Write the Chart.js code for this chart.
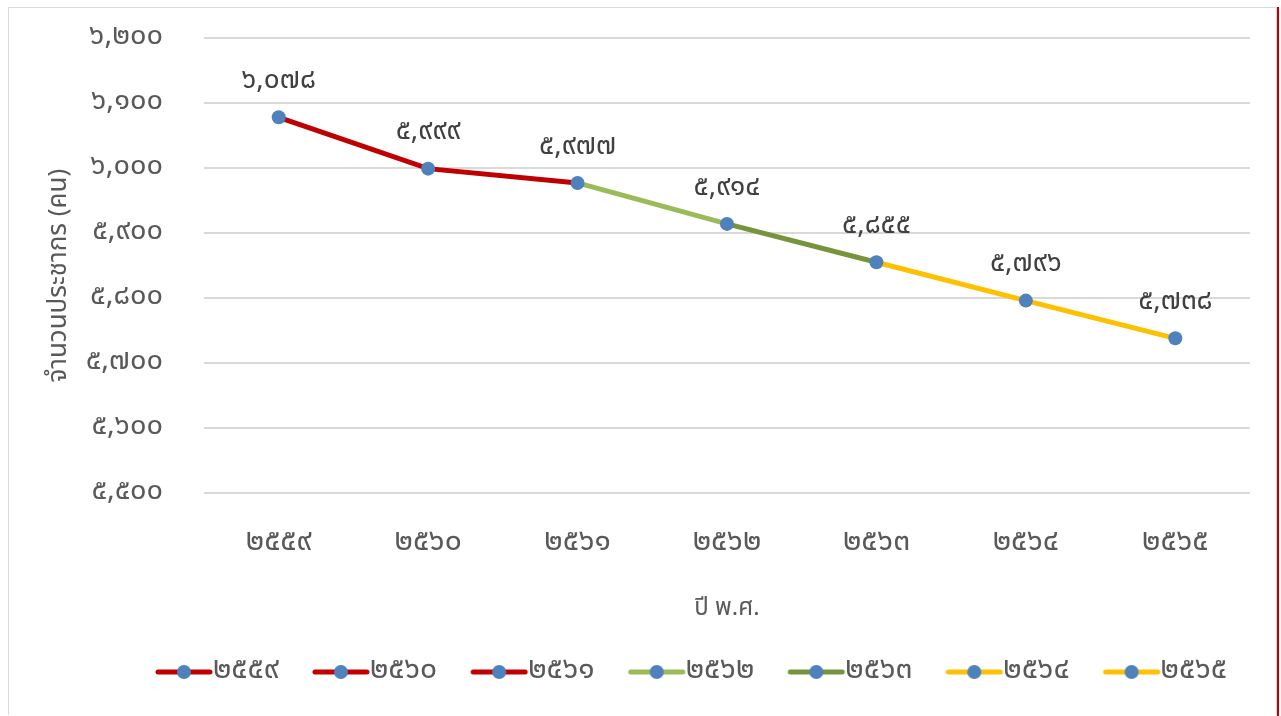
<!doctype html>
<html lang="th">
<head>
  <meta charset="utf-8">
  <title>population</title>
  <style>
    body { margin: 0; background: #fff; }
    #frame {
      position: absolute; left: 8px; top: 7px;
      width: 1267px; height: 707px;
      border: 1px solid #D9D9D9;
      border-bottom: none;
    }
    #edge {
      position: absolute; left: 1277px; top: 7px; width: 2px; height: 709px;
      background: #C00000;
    }
    #chart { display: block; }
  </style>
</head>
<body>
  <div id="frame"><canvas id="chart" width="1267" height="707"></canvas></div>
  <div id="edge"></div>

  <script src="https://cdn.jsdelivr.net/npm/chart.js@4/dist/chart.umd.min.js"></script>
  <script>
  const years = ['๒๕๕๙', '๒๕๖๐', '๒๕๖๑', '๒๕๖๒', '๒๕๖๓', '๒๕๖๔', '๒๕๖๕'];
  const people = [6078, 5999, 5977, 5914, 5855, 5796, 5738];
  const yMin = 5500, yMax = 6200, yStep = 100;

  // colour of the line running into each point, as in the legend
  const lineColors = ['#C00000', '#C00000', '#C00000', '#9BBB59', '#77933C', '#FFC000', '#FFC000'];
  const marker = '#4F81BD';
  const font = "'Noto Sans Thai', 'Noto Sans', Tahoma, sans-serif";

  function thai(n) {
    return n.toLocaleString('en-US').replace(/[0-9]/g, d => String.fromCharCode(0x0E50 + +d));
  }

  function legendIcon(color) {
    let c = document.createElement('canvas');
    c.width = 100; c.height = 16;
    let g = c.getContext('2d');
    g.strokeStyle = color; g.lineWidth = 5; g.lineCap = 'round';
    g.beginPath(); g.moveTo(38, 8); g.lineTo(90, 8); g.stroke();
    g.fillStyle = marker;
    g.beginPath(); g.arc(64, 8, 7, 0, Math.PI * 2); g.fill();
    return c;
  }

  const valueLabels = {
    id: 'valueLabels',
    afterDatasetsDraw(chart) {
      let ctx = chart.ctx;
      let meta = chart.getDatasetMeta(0);
      ctx.save();
      ctx.font = '28px ' + font;
      ctx.fillStyle = '#404040';
      ctx.textAlign = 'center';
      ctx.textBaseline = 'middle';
      meta.data.forEach((pt, i) => {
        ctx.fillText(thai(people[i]), pt.x, pt.y - 35);
      });
      ctx.restore();
    }
  };

  // legend row sits a little off centre in the original
  const legendNudge = {
    id: 'legendNudge',
    afterLayout(chart) {
      chart.legend.left -= 3;
      chart.legend.right -= 3;
    }
  };

  let ctx = document.getElementById('chart').getContext('2d');
  new Chart(ctx, {
    type: 'line',
    data: {
      labels: years,
      datasets: [{
        data: people,
        borderWidth: 5,
        borderColor: lineColors[0],
        segment: {
          borderColor: c => lineColors[c.p1DataIndex],
        },
        pointRadius: 7,
        pointHoverRadius: 7,
        pointBackgroundColor: marker,
        pointBorderWidth: 0,
        tension: 0,
      }],
    },
    plugins: [valueLabels, legendNudge],
    options: {
      responsive: false,
      animation: false,
      layout: { autoPadding: false, padding: { top: 30, right: 26, bottom: 18, left: 0 } },
      plugins: {
        tooltip: { enabled: false },
        legend: {
          position: 'bottom',
          align: 'end',
          labels: {
            usePointStyle: true,
            pointStyleWidth: 56,
            padding: 20,
            color: '#595959',
            font: { size: 30, family: font },
            generateLabels: () => years.map((y, i) => ({
              text: y,
              pointStyle: legendIcon(lineColors[i]),
              fontColor: '#595959',
              lineWidth: 0,
              strokeStyle: 'transparent',
              fillStyle: 'transparent',
              datasetIndex: 0,
            })),
          },
        },
      },
      scales: {
        x: {
          offset: true,
          grid: { display: false, drawTicks: false },
          border: { display: false },
          ticks: { padding: 33, color: '#595959', font: { size: 30, family: font } },
          title: {
            display: true, text: 'ปี พ.ศ.', color: '#595959',
            font: { size: 24, family: font }, padding: { top: 0, bottom: 12 },
          },
          afterFit: s => { s.height = 144; },
        },
        y: {
          min: yMin, max: yMax,
          grid: { color: '#D9D9D9', lineWidth: 2, drawTicks: false },
          border: { display: false },
          ticks: {
            stepSize: yStep, padding: 41, color: '#595959',
            font: { size: 29, family: font },
            callback: v => thai(v),
          },
          title: {
            display: true, text: 'จำนวนประชากร (คน)   ', color: '#595959',
            font: { size: 26, family: font }, padding: { top: 36, bottom: 0 },
          },
          afterFit: s => { s.width = 195; s.paddingTop = 0; s.paddingBottom = 0; },
        },
      },
    },
  });
  </script>
</body>
</html>
